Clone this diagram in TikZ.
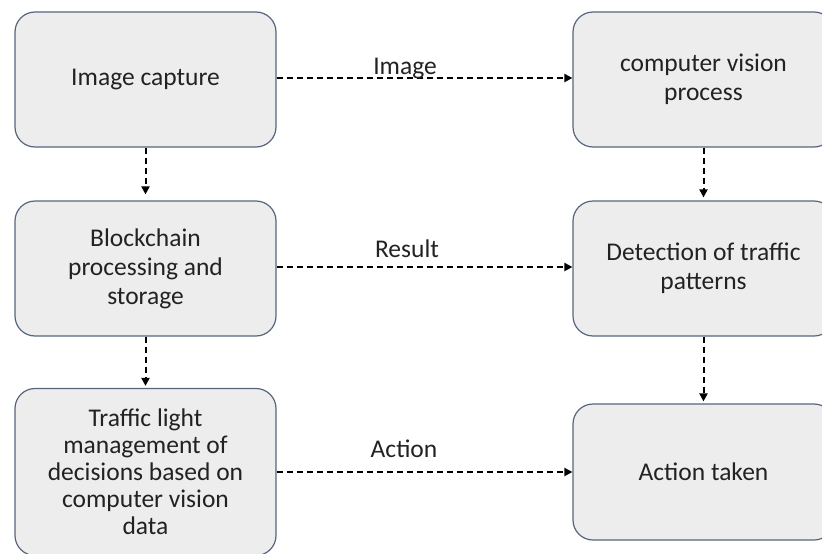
\documentclass[tikz,border=0pt]{standalone}
\usepackage{fontspec}
\setmainfont{Carlito}
\usetikzlibrary{arrows.meta}
\definecolor{boxfill}{HTML}{EDEDED}
\definecolor{boxline}{HTML}{56657D}
\definecolor{txt}{HTML}{222222}
\tikzset{blk/.style={draw=boxline,fill=boxfill,line width=1.2pt,rounded corners=20pt,minimum width=261pt,minimum height=135pt,align=center,text=txt,font=\fontsize{25.5}{29}\selectfont},
  flow/.style={-{Triangle[length=8pt,width=8pt]},line width=2pt,dash pattern=on 6pt off 4pt},
  lbl/.style={anchor=base,text=txt,inner sep=0pt,font=\fontsize{25.5}{29}\selectfont}}

\begin{document}
\begin{tikzpicture}[x=1pt,y=-1pt]
  \useasboundingbox (0,0) rectangle (822,554);

  % left column
  \node (cap) [blk] at (145.5,79.5) {Image capture};
  \node (bc) [blk] at (145.5,268.5) {Blockchain\\processing and\\storage};
  \node (tl) [blk,minimum height=167pt,font=\fontsize{25.5}{27}\selectfont] at (145.5,472) {Traffic light\\management of\\decisions based on\\computer vision\\data};

  % right column
  \node (cv) [blk] at (703.5,79.5) {computer vision\\process};
  \node (det) [blk] at (703.5,268.5) {Detection of traffic\\patterns};
  \node (act) [blk,minimum height=136pt] at (703.5,472) {Action taken};

  % arrows down
  \draw[flow,shorten >=6pt] (cap) -- (bc);
  \draw[flow,shorten >=2pt] (bc) -- (tl);
  \draw[flow,shorten >=3pt] (cv) -- (det);
  \draw[flow,shorten >=2pt] (det) -- (act);

  % arrows across
  \draw[flow] (cap.east |- 0,78) -- (cv.west |- 0,78);
  \draw[flow] (bc.east |- 0,267) -- (det.west |- 0,267);
  \draw[flow] (tl.east |- 0,472) -- (act.west |- 0,472);

  % labels
  \node (l1) [lbl] at (405,74) {Image};
  \node (l2) [lbl] at (407,257) {Result};
  \node (l3) [lbl] at (404,457) {Action};
\end{tikzpicture}
\end{document}
